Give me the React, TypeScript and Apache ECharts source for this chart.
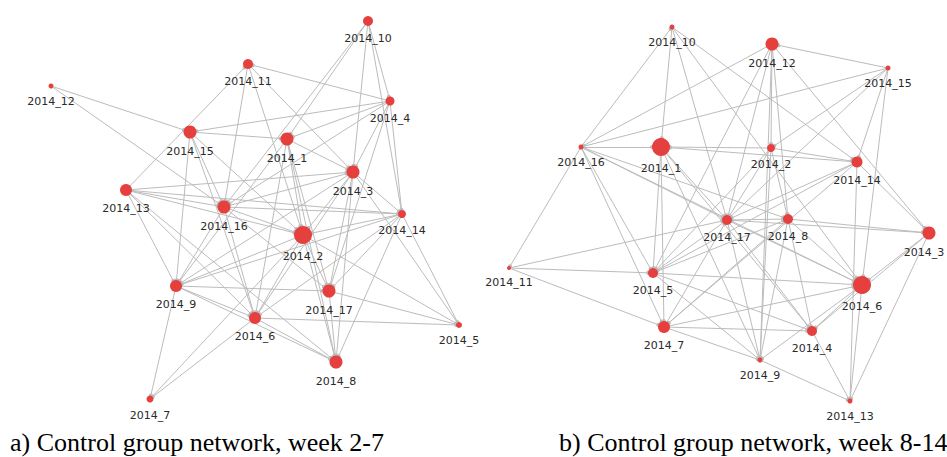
import React, { useEffect, useRef } from "react";
import * as echarts from "echarts";

// ---- Network a) week 2-7 ----
const namesA = ["2014_10", "2014_11", "2014_12", "2014_4", "2014_15", "2014_1", "2014_3", "2014_13", "2014_16", "2014_14", "2014_2", "2014_9", "2014_17", "2014_6", "2014_5", "2014_8", "2014_7"];
const layoutXA = [368, 248, 51, 390, 190, 287, 353, 126, 224, 402, 303, 176, 329, 255, 459, 336, 150];
const layoutYA = [21, 64, 86, 101, 132, 139, 172, 190, 207, 214, 235, 286, 291, 318, 325, 362, 399];
const degreeSizeA = [10, 10, 5, 9, 13, 13, 13, 12, 13, 8, 18, 12, 13, 12, 6, 13, 7];
const edgesA: [string, string][] = [
  ["2014_12", "2014_15"], ["2014_12", "2014_16"], ["2014_4", "2014_11"], ["2014_11", "2014_3"],
  ["2014_11", "2014_16"], ["2014_13", "2014_11"], ["2014_11", "2014_2"], ["2014_10", "2014_1"],
  ["2014_10", "2014_16"], ["2014_10", "2014_3"], ["2014_10", "2014_4"], ["2014_10", "2014_14"],
  ["2014_4", "2014_15"], ["2014_4", "2014_1"], ["2014_4", "2014_14"], ["2014_4", "2014_16"],
  ["2014_4", "2014_3"], ["2014_4", "2014_17"], ["2014_1", "2014_3"], ["2014_1", "2014_2"],
  ["2014_1", "2014_17"], ["2014_1", "2014_8"], ["2014_1", "2014_6"], ["2014_15", "2014_1"],
  ["2014_15", "2014_16"], ["2014_15", "2014_2"], ["2014_15", "2014_6"], ["2014_15", "2014_9"],
  ["2014_13", "2014_3"], ["2014_13", "2014_14"], ["2014_13", "2014_2"], ["2014_13", "2014_9"],
  ["2014_13", "2014_8"], ["2014_16", "2014_3"], ["2014_16", "2014_2"], ["2014_16", "2014_14"],
  ["2014_16", "2014_6"], ["2014_16", "2014_9"], ["2014_16", "2014_17"], ["2014_3", "2014_2"],
  ["2014_3", "2014_17"], ["2014_3", "2014_8"], ["2014_3", "2014_6"], ["2014_3", "2014_9"],
  ["2014_3", "2014_14"], ["2014_14", "2014_2"], ["2014_14", "2014_17"], ["2014_14", "2014_5"],
  ["2014_14", "2014_8"], ["2014_14", "2014_6"], ["2014_14", "2014_9"], ["2014_2", "2014_17"],
  ["2014_2", "2014_5"], ["2014_2", "2014_6"], ["2014_2", "2014_9"], ["2014_2", "2014_8"],
  ["2014_9", "2014_7"], ["2014_9", "2014_17"], ["2014_9", "2014_6"], ["2014_9", "2014_8"],
  ["2014_6", "2014_7"], ["2014_6", "2014_5"], ["2014_6", "2014_8"], ["2014_17", "2014_5"],
  ["2014_17", "2014_8"], ["2014_2", "2014_7"], ["2014_3", "2014_5"], ["2014_13", "2014_6"],
  ["2014_1", "2014_9"], ["2014_13", "2014_16"]
];

// ---- Network b) week 8-14 ----
const namesB = ["2014_10", "2014_12", "2014_15", "2014_16", "2014_1", "2014_2", "2014_14", "2014_17", "2014_8", "2014_3", "2014_6", "2014_11", "2014_5", "2014_7", "2014_4", "2014_9", "2014_13"];
const layoutXB = [672, 772, 888, 581, 661, 771, 857, 727, 788, 929, 862, 509, 653, 664, 812, 760, 850];
const layoutYB = [27, 44, 68, 147, 147, 148, 162, 220, 219, 233, 285, 268, 273, 327, 331, 360, 401];
const degreeSizeB = [5, 13, 5, 5, 18, 8, 11, 10, 10, 13, 18, 4, 10, 12, 10, 5, 5];
const edgesB: [string, string][] = [
  ["2014_10", "2014_1"], ["2014_16", "2014_10"], ["2014_10", "2014_14"], ["2014_10", "2014_6"],
  ["2014_10", "2014_17"], ["2014_15", "2014_12"], ["2014_12", "2014_2"], ["2014_12", "2014_16"],
  ["2014_12", "2014_5"], ["2014_12", "2014_17"], ["2014_12", "2014_8"], ["2014_12", "2014_3"],
  ["2014_15", "2014_16"], ["2014_15", "2014_14"], ["2014_15", "2014_17"], ["2014_15", "2014_6"],
  ["2014_15", "2014_2"], ["2014_16", "2014_1"], ["2014_16", "2014_11"], ["2014_16", "2014_5"],
  ["2014_16", "2014_7"], ["2014_16", "2014_17"], ["2014_16", "2014_6"], ["2014_16", "2014_8"],
  ["2014_1", "2014_5"], ["2014_1", "2014_7"], ["2014_1", "2014_17"], ["2014_1", "2014_4"],
  ["2014_2", "2014_1"], ["2014_2", "2014_14"], ["2014_2", "2014_17"], ["2014_2", "2014_8"],
  ["2014_2", "2014_9"], ["2014_2", "2014_5"], ["2014_14", "2014_1"], ["2014_14", "2014_5"],
  ["2014_14", "2014_7"], ["2014_14", "2014_17"], ["2014_14", "2014_3"], ["2014_14", "2014_13"],
  ["2014_17", "2014_8"], ["2014_17", "2014_5"], ["2014_17", "2014_4"], ["2014_17", "2014_9"],
  ["2014_17", "2014_6"], ["2014_8", "2014_3"], ["2014_8", "2014_6"], ["2014_8", "2014_7"],
  ["2014_8", "2014_9"], ["2014_8", "2014_4"], ["2014_3", "2014_6"], ["2014_3", "2014_4"],
  ["2014_3", "2014_13"], ["2014_3", "2014_17"], ["2014_11", "2014_5"], ["2014_11", "2014_7"],
  ["2014_11", "2014_17"], ["2014_5", "2014_6"], ["2014_5", "2014_4"], ["2014_5", "2014_9"],
  ["2014_5", "2014_8"], ["2014_7", "2014_6"], ["2014_7", "2014_4"], ["2014_7", "2014_9"],
  ["2014_7", "2014_17"], ["2014_6", "2014_4"], ["2014_6", "2014_13"], ["2014_6", "2014_9"],
  ["2014_4", "2014_13"], ["2014_9", "2014_13"], ["2014_12", "2014_9"], ["2014_1", "2014_9"]
];

const captions = ["a) Control group network, week 2-7", "b) Control group network, week 8-14"];

const baseLabel = {
  show: true,
  position: "bottom",
  distance: 7,
  formatter: "{b}",
  fontFamily: "DejaVu Sans",
  fontSize: 11,
  color: "#2a2a2a",
};

function makeSeries(names: string[], xs: number[], ys: number[], sizes: number[], edges: [string, string][], edgeNode?: string) {
  return {
    type: "graph",
    coordinateSystem: "cartesian2d",
    xAxisIndex: 0,
    yAxisIndex: 0,
    layout: "none",
    silent: true,
    data: names.map((n, i) => {
      const item: any = { name: n, value: [xs[i], ys[i]], symbolSize: sizes[i] };
      if (n === edgeNode) item.label = { ...baseLabel, offset: [-5, 0] };
      return item;
    }),
    links: edges.map(([s, t]) => ({ source: s, target: t })),
    edgeSymbol: ["none", "circle"],
    edgeSymbolSize: [0, 4],
    itemStyle: { color: "#e5403e", opacity: 1 },
    lineStyle: { color: "#bcbcbc", width: 1, opacity: 1, curveness: 0 },
    label: baseLabel,
    emphasis: { disabled: true },
  };
}

export default function App() {
  const ref = useRef<HTMLDivElement>(null);
  useEffect(() => {
    if (!ref.current) return;
    const chart = echarts.init(ref.current, null, { renderer: "svg" });
    chart.setOption({
      animation: false,
      backgroundColor: "#ffffff",
      grid: { left: 0, right: 0, top: 0, bottom: 0 },
      xAxis: { type: "value", min: 0, max: 947, show: false },
      yAxis: { type: "value", min: 0, max: 457, inverse: true, show: false },
      series: [
        makeSeries(namesA, layoutXA, layoutYA, degreeSizeA, edgesA),
        makeSeries(namesB, layoutXB, layoutYB, degreeSizeB, edgesB, "2014_3"),
      ],
      graphic: [
        {
          type: "text",
          left: 10,
          top: 429,
          style: { text: captions[0], font: '26px "Liberation Serif"', fill: "#000" },
        },
        {
          type: "text",
          left: 559,
          top: 429,
          style: { text: captions[1], font: '26px "Liberation Serif"', fill: "#000" },
        },
      ],
    });
    return () => chart.dispose();
  }, []);
  return (
    <div
      ref={ref}
      style={{ position: "fixed", left: 0, top: 0, width: 947, height: 457, background: "#fff" }}
    />
  );
}
